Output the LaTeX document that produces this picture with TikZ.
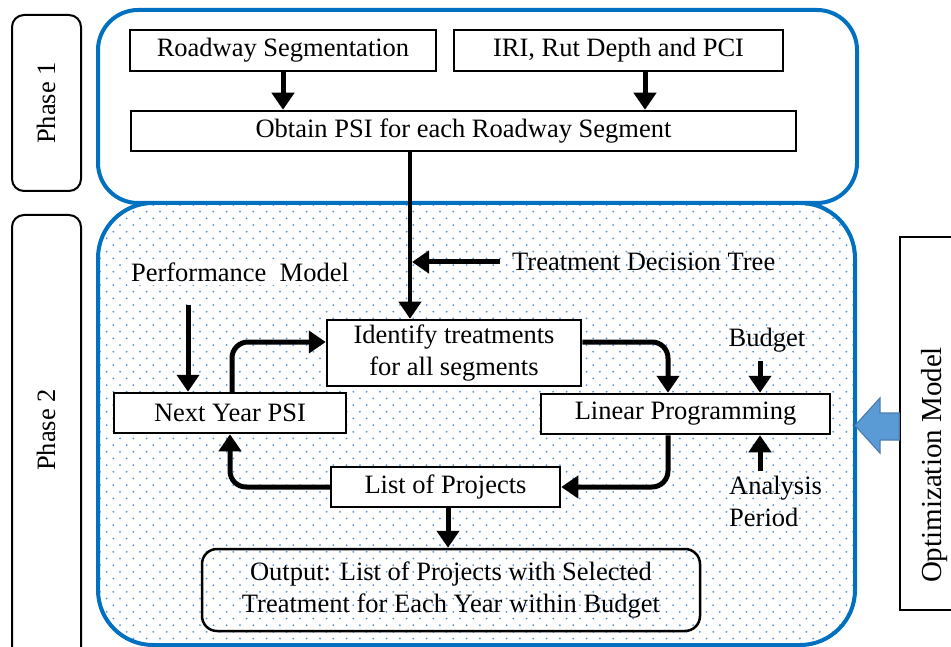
\documentclass[tikz,border=0pt]{standalone}
\usepackage{fontspec}
\setmainfont{Liberation Serif}
\usetikzlibrary{arrows.meta}
\definecolor{pblue}{RGB}{0,112,192}
\definecolor{dotblue}{RGB}{80,145,215}
\definecolor{arrowfill}{RGB}{91,155,213}
\definecolor{arrowedge}{RGB}{75,125,175}
\begin{document}
\begin{tikzpicture}[x=1pt,y=-1pt,
  txt/.style={font=\fontsize{26.5}{32}\selectfont, inner sep=0pt},
  box/.style={txt, draw=black, line width=2.5pt, fill=white, align=center},
  phasebox/.style={draw=black, line width=2pt, rounded corners=12pt, inner sep=0pt},
  flow/.style={line width=5pt, -{Triangle[length=17pt,width=22pt]}},
  loopflow/.style={flow, rounded corners=16pt},
  blueframe/.style={draw=pblue, line width=4pt}
]
\useasboundingbox (0,0) rectangle (951,647);

% phase labels
\node[phasebox, minimum width=69pt, minimum height=176pt] (p1box) at (46.5,103) {};
\node[txt, rotate=90] (p1) at (46,103) {Phase 1};
\node[phasebox, minimum width=69pt, minimum height=460pt] (p2box) at (46.5,445) {};
\node[txt, rotate=90] (p2) at (46,430) {Phase 2};

% phase 2 dotted area
\begin{scope}
  \clip[rounded corners=55pt] (98,203) rectangle (855,645);
  \foreach \j in {0,...,66} {
    \pgfmathsetmacro{\yy}{205+\j*6.67}
    \pgfmathsetmacro{\xo}{100+mod(\j,2)*6.67}
    \fill[dotblue] \foreach \i in {0,...,58} { ({\xo+\i*13.33},\yy) circle (1.0) };
  }
\end{scope}
\draw[blueframe, rounded corners=55pt] (98,203) rectangle (855,645);
\draw[blueframe, rounded corners=40pt, fill=white] (98,10) rectangle (857,203);

% phase 1 boxes
\node[box, minimum width=306pt, minimum height=41pt] (rs) at (283,50.5) {Roadway Segmentation};
\node[box, minimum width=329pt, minimum height=41pt] (iri) at (618.5,50.5) {IRI, Rut Depth and PCI};
\node[box, minimum width=665pt, minimum height=40pt] (psi) at (463.5,131) {Obtain PSI for each Roadway Segment};

\draw[flow] (rs.south) -- (rs.south |- psi.north);
\draw[flow] ([xshift=26.5pt]iri.south) -- ([xshift=26.5pt]iri.south |- psi.north);

% phase 2
\node[box, minimum width=254pt, minimum height=66pt] (ident) at (454,353) {Identify treatments\\for all segments};
\node[box, minimum width=232pt, minimum height=40pt] (nyp) at (230,413) {Next Year PSI};
\node[box, minimum width=289pt, minimum height=40pt] (lp) at (685.5,414) {Linear Programming};
\node[box, minimum width=229pt, minimum height=40pt] (lop) at (445.5,487) {List of Projects};
\node[box, fill=none, rounded corners=15pt, minimum width=498pt, minimum height=82pt] (out) at (451,590) {Output: List of Projects with Selected\\Treatment for Each Year within Budget};

\node[txt, anchor=west] (tdt) at (512,262) {Treatment Decision Tree};
\node[txt, fill=white, inner sep=4pt] (pm) at (240,272) {Performance\ \ Model};
\node[txt] (bud) at (767,340) {Budget};
\node[txt, align=left, anchor=north west] (ap) at (729,476) {Analysis\\Period};

\coordinate (vx) at (410,0);
\draw[line width=4pt, -{Triangle[length=17pt,width=22pt]}] (psi.south -| vx) -- (ident.north -| vx);
\draw[flow] ([xshift=-12pt]tdt.west) -- ([xshift=2pt]vx |- tdt.west);
\coordinate (pmx) at (188,305);
\draw[flow] (pmx) -- (pmx |- nyp.north);

\draw[loopflow] ([xshift=2pt]nyp.north) |- ([yshift=11pt]ident.west);
\draw[loopflow] ([yshift=11pt]ident.east) -| ([xshift=-17.5pt]lp.north);
\draw[loopflow] ([xshift=-17.5pt]lp.south) |- (lop.east);
\draw[loopflow] (lop.west) -| (nyp.south);
\draw[flow] ([xshift=2.5pt]lop.south) -- ([xshift=2.5pt]lop.south |- out.north);

\draw[flow] ([xshift=74.5pt,yshift=32pt]lp.north) -- ([xshift=74.5pt]lp.north);
\draw[flow] ([xshift=74.5pt,yshift=-36pt]lp.south) -- ([xshift=74.5pt]lp.south);

% optimization model
\node[draw=black, line width=1.5pt, minimum width=100pt, minimum height=373pt, inner sep=0pt] (omb) at (950,423.5) {};
\node[font=\fontsize{29}{34}\selectfont, inner sep=0pt, rotate=90] (om) at (935,465) {Optimization Model};
\draw[fill=arrowfill, draw=arrowedge, line width=1.2pt]
  (omb.west |- 0,413) -- (880,413) -- (880,398) -- (855,425.5) -- (880,453) -- (880,440) -- (omb.west |- 0,440) -- cycle;
\end{tikzpicture}
\end{document}
